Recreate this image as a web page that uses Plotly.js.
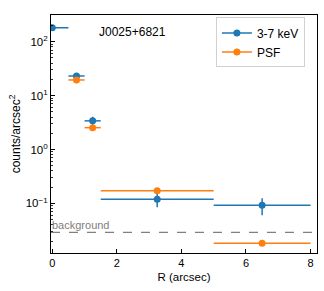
<!DOCTYPE html>
<html>
<head>
<meta charset="utf-8">
<script src="https://cdn.plot.ly/plotly-3.0.1.min.js"></script>
<style>html,body{margin:0;padding:0;background:#fff}#chart{width:324px;height:291px}</style>
</head>
<body>
<div id="chart"></div>
<script>
// Data
var bandR = [0, 0.75, 1.25, 3.25, 6.5];
var bandRErr = [0.5, 0.25, 0.25, 1.75, 1.5];
var bandCounts = [182, 23.1, 3.4, 0.12, 0.092];
var bandCountsErr = [10, 2, 0.65, 0.035, 0.032];

var psfR = [0.75, 1.25, 3.25, 6.5];
var psfRErr = [0.25, 0.25, 1.75, 1.5];
var psfCounts = [19.5, 2.54, 0.171, 0.0183];

var background = 0.029;
var xRangeData = [-0.04, 8.2];
var yTickVals = [0.1, 1, 10, 100];
var yTickText = ['10<sup>\u22121</sup>', '10<sup>0</sup>', '10<sup>1</sup>', '10<sup>2</sup>'];
var xTickVals = [0, 2, 4, 6, 8];
var sourceName = 'J0025+6821';

var blue = '#1f77b4', orange = '#ff7f0e';

var traces = [
  {
    x: xRangeData, y: [background, background], mode: 'lines', type: 'scatter',
    line: {color: '#808080', width: 1.2, dash: 'dash'}, showlegend: false, hoverinfo: 'skip'
  },
  {
    x: bandR, y: bandCounts, mode: 'markers', type: 'scatter', name: '3-7 keV', showlegend: false,
    marker: {color: blue, size: 7},
    error_x: {type: 'data', array: bandRErr, color: blue, thickness: 1.5, width: 0},
    error_y: {type: 'data', array: bandCountsErr, color: blue, thickness: 1.5, width: 0}
  },
  {
    x: psfR, y: psfCounts, mode: 'markers', type: 'scatter', name: 'PSF', showlegend: false,
    marker: {color: orange, size: 7},
    error_x: {type: 'data', array: psfRErr, color: orange, thickness: 1.5, width: 0}
  },
  {x: [null], y: [null], mode: 'lines+markers', name: '3-7 keV', line: {color: blue, width: 1.5}, marker: {color: blue, size: 7}},
  {x: [null], y: [null], mode: 'lines+markers', name: 'PSF', line: {color: orange, width: 1.5}, marker: {color: orange, size: 7}}
];

var fam = 'Liberation Sans, Arial, sans-serif';

var layout = {
  width: 324, height: 291,
  margin: {l: 51, r: 7, t: 15, b: 38},
  paper_bgcolor: '#fff', plot_bgcolor: '#fff',
  font: {family: fam, size: 11, color: '#000'},
  showlegend: true,
  legend: {
    x: 0.62, y: 0.99, xanchor: 'left', yanchor: 'top',
    bgcolor: 'rgba(255,255,255,0.8)', bordercolor: '#d0d0d0', borderwidth: 1,
    font: {family: fam, size: 12, color: '#000'},
    itemwidth: 30, tracegroupgap: 0
  },
  xaxis: {
    range: xRangeData, tickmode: 'array', tickvals: xTickVals,
    ticks: 'inside', ticklen: 4, tickwidth: 1, tickcolor: '#000',
    showline: true, linecolor: '#000', linewidth: 1, mirror: true,
    showgrid: false, zeroline: false,
    title: {text: 'R (arcsec)', font: {size: 11.5}, standoff: 4},
    tickfont: {size: 11}
  },
  yaxis: {
    type: 'log', range: [-1.92, 2.495],
    tickmode: 'array', tickvals: yTickVals, ticktext: yTickText,
    ticks: 'inside', ticklen: 4, tickwidth: 1, tickcolor: '#000',
    minor: {dtick: 'D1', ticks: 'inside', ticklen: 2, tickwidth: 0.8, tickcolor: '#000', showgrid: false},
    showline: true, linecolor: '#000', linewidth: 1, mirror: true,
    showgrid: false, zeroline: false,
    title: {text: 'counts/arcsec<sup>2</sup>', font: {size: 12}, standoff: 2},
    tickfont: {size: 11.5}
  },
  annotations: [
    {xref: 'paper', yref: 'paper', x: 0.173, y: 0.929, xanchor: 'left', yanchor: 'middle',
     text: sourceName, showarrow: false, font: {size: 12, color: '#000'}},
    {xref: 'x', yref: 'y', x: 0, y: Math.log10(background), xanchor: 'left', yanchor: 'bottom',
     text: 'background', showarrow: false, font: {size: 11, color: '#808080'}, xshift: -2, yshift: -1}
  ]
};

Plotly.newPlot('chart', traces, layout, {displayModeBar: false, staticPlot: true});
</script>
</body>
</html>
